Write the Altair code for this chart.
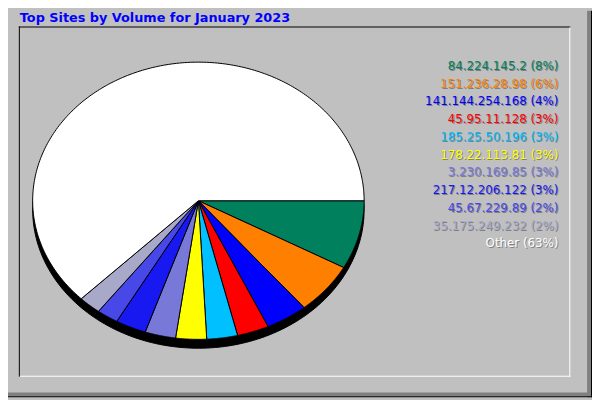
import altair as alt
import pandas as pd

# ---- data ----
hosts = ["84.224.145.2", "151.236.28.98", "141.144.254.168", "45.95.11.128",
         "185.25.50.196", "178.22.113.81", "3.230.169.85", "217.12.206.122",
         "45.67.229.89", "35.175.249.232", "Other"]
shares = [8.0, 6.0, 4.1, 3.1, 3.0, 3.0, 3.0, 3.0, 2.1, 2.2, 62.5]
colors = ["#00805c", "#ff8000", "#0000ff", "#ff0000", "#00c0ff", "#ffff00",
          "#7878d8", "#1818f0", "#4848e8", "#a8a8c8", "#ffffff"]
title_text = "Top Sites by Volume for January 2023"

df = pd.DataFrame({"idx": list(range(len(hosts))), "host": hosts, "share": shares})

# ---- layout (chart pixels; page margin of 8px already accounted) ----
W, H = 592, 392
CX, CY, RX, RY, DEPTH = 193, 192.7, 168, 140.5, 9
N = 240
LX, LY0, LDY = 558, 60, 18

xs = alt.Scale(domain=[0, W], range=[0, W])
ys = alt.Scale(domain=[0, H], range=[0, H])
cscale = alt.Scale(domain=hosts, range=colors)

base = alt.Chart(df)
blank = alt.Chart(alt.Data(values=[{}]))

# shadow (depth) ellipse
shadow = base.transform_aggregate(n="count()").transform_calculate(
    steps=f"sequence(0, {N + 1})"
).transform_flatten(["steps"], as_=["step"]).transform_calculate(
    t=f"2*PI*datum.step/{N}",
    px=f"{CX} + {RX}*cos(datum.t)",
    py=f"{CY + DEPTH} + {RY}*sin(datum.t)",
).mark_line(fill="black", stroke="black", strokeWidth=1, interpolate="linear").encode(
    x=alt.X("px:Q", scale=xs, axis=None),
    y=alt.Y("py:Q", scale=ys, axis=None),
    order=alt.Order("step:Q"),
)

# pie slices as elliptical wedges
slices = base.transform_joinaggregate(total="sum(share)").transform_window(
    cum="sum(share)", sort=[alt.SortField("idx")], frame=[None, 0]
).transform_calculate(
    a1="2*PI*(datum.cum - datum.share)/datum.total",
    a2="2*PI*datum.cum/datum.total",
    steps=f"sequence(0, {N + 3})",
).transform_flatten(["steps"], as_=["step"]).transform_calculate(
    t=f"datum.a1 + (datum.a2 - datum.a1)*clamp(datum.step - 1, 0, {N})/{N}",
    edge=f"datum.step == 0 || datum.step == {N + 2}",
).transform_calculate(
    px=f"datum.edge ? {CX} : {CX} + {RX}*cos(datum.t)",
    py=f"datum.edge ? {CY} : {CY} + {RY}*sin(datum.t)",
).mark_line(stroke="black", strokeWidth=1, interpolate="linear").encode(
    x=alt.X("px:Q", scale=xs, axis=None),
    y=alt.Y("py:Q", scale=ys, axis=None),
    fill=alt.Fill("host:N", scale=cscale, legend=None),
    detail="host:N",
    order=alt.Order("step:Q"),
)

# legend labels
labels = base.transform_joinaggregate(total="sum(share)").transform_calculate(
    label="datum.host + ' (' + round(100*datum.share/datum.total) + '%)'",
    ly=f"{LY0} + {LDY}*datum.idx",
)
lab_shadow = labels.mark_text(align="right", baseline="alphabetic", font="DejaVu Sans",
                              fontSize=12, color="#808080", dx=1, dy=1).encode(
    x=alt.value(LX), y=alt.Y("ly:Q", scale=ys, axis=None), text="label:N")
lab_text = labels.mark_text(align="right", baseline="alphabetic", font="DejaVu Sans",
                            fontSize=12).encode(
    x=alt.value(LX), y=alt.Y("ly:Q", scale=ys, axis=None), text="label:N",
    color=alt.Color("host:N", scale=cscale, legend=None))

# title
title = blank.mark_text(text=title_text, align="left", baseline="alphabetic",
                        font="DejaVu Sans", fontSize=13, fontWeight="bold",
                        color="#0000ff").encode(x=alt.value(12), y=alt.value(11))

# frame (bevels)
def rect(x, x2, y, y2, c):
    return blank.mark_rect(color=c).encode(
        x=alt.value(x), x2=alt.value(x2), y=alt.value(y), y2=alt.value(y2))

frame = [
    rect(11, 12, 16, 371, "black"),
    rect(11, 570, 16, 17, "black"),
    rect(569, 570, 17, 371, "white"),
    rect(12, 570, 370, 371, "white"),
    rect(587, 591, 0, 392, "#808080"),
    rect(0, 591, 387, 391, "#808080"),
    rect(591, 592, 0, 392, "black"),
    rect(0, 592, 391, 392, "black"),
]

chart = alt.layer(*frame, shadow, slices, lab_shadow, lab_text, title).properties(
    width=W, height=H, padding=0, autosize=alt.AutoSizeParams(type="none"),
    background="#c0c0c0",
).configure_view(strokeWidth=0)

chart.save("out.html", embed_options={"renderer": "svg", "actions": False})
